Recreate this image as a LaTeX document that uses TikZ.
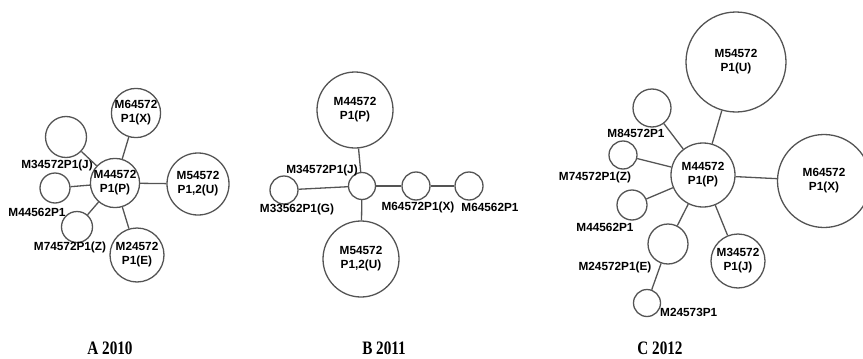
\documentclass[tikz,border=0pt]{standalone}
\usepackage{fontspec}
\setmainfont{Liberation Sans}
\newfontfamily\yearfont{Liberation Serif}[FakeStretch=0.8]
\usetikzlibrary{positioning}
\definecolor{edgegrey}{rgb}{0.33, 0.33, 0.33}

\begin{document}
\begin{tikzpicture}[x=1pt,y=-1pt,
    allele/.style={circle,draw=edgegrey,line width=1.3pt,inner sep=0pt,align=center,
      font=\fontsize{11.8}{14}\selectfont\bfseries},
    tag/.style={inner sep=0pt,font=\fontsize{11.8}{14}\selectfont\bfseries},
    link/.style={draw=edgegrey,line width=1.3pt},
    year/.style={inner sep=0pt,font=\fontsize{19}{21}\yearfont\bfseries}]
\useasboundingbox (0,0) rectangle (863,359);

\node[allele,minimum size=49pt] (aP) at (115,183) {M44572\\P1(P)};
\node[allele,minimum size=46pt] (aX) at (136,113) {M64572\\P1(X)};
\node[allele,minimum size=41pt] (aJ) at (66,137) {};
\node[allele,minimum size=62pt] (aU) at (198,184) {M54572\\P1,2(U)};
\node[allele,minimum size=30pt] (aG) at (55,188) {};
\node[allele,minimum size=31pt] (aZ) at (77,227) {};
\node[allele,minimum size=54pt] (aE) at (137,255) {M24572\\P1(E)};
\node[tag] (aJt) at (57,165) {M34572P1(J)};
\node[tag] (aGt) at (37,212) {M44562P1};
\node[tag] (aZt) at (70,247) {M74572P1(Z)};
\draw[link] (aP) -- (aX);
\draw[link] (aP) -- (aJ);
\draw[link] (aP) -- (aU);
\draw[link] (aP) -- (aG);
\draw[link] (aP) -- (aZ);
\draw[link] (aP) -- (aE);

\node[allele,minimum size=27pt] (bJ) at (362,186) {};
\node[allele,minimum size=76pt] (bP) at (355,110) {M44572\\P1(P)};
\node[allele,minimum size=76pt] (bU) at (361,259) {M54572\\P1,2(U)};
\node[allele,minimum size=28pt] (bG) at (284,190) {};
\node[allele,minimum size=28pt] (bX) at (416,186) {};
\node[allele,minimum size=28pt] (bX2) at (469,186) {};
\node[tag] (bJt) at (322,170) {M34572P1(J)};
\node[tag] (bGt) at (297,209) {M33562P1(G)};
\node[tag] (bXt) at (418,207) {M64572P1(X)};
\node[tag] (bX2t) at (490,207) {M64562P1};
\draw[link] (bJ) -- (bP);
\draw[link] (bJ) -- (bU);
\draw[link] (bJ) -- (bG);
\draw[link] (bJ) -- (bX);
\draw[link] (bX) -- (bX2);

\node[allele,minimum size=64pt] (cP) at (703,175) {M44572\\P1(P)};
\node[allele,minimum size=100pt] (cU) at (736,62) {M54572\\P1(U)};
\node[allele,minimum size=93pt] (cX) at (824,181) {M64572\\P1(X)};
\node[allele,minimum size=54pt] (cJ) at (738,261) {M34572\\P1(J)};
\node[allele,minimum size=38pt] (c8) at (652,108) {};
\node[allele,minimum size=28pt] (cZ) at (623,155) {};
\node[allele,minimum size=30pt] (cG) at (632,205) {};
\node[allele,minimum size=40pt] (cE) at (668,244) {};
\node[allele,minimum size=27pt] (cE2) at (647,303) {};
\node[tag] (c8t) at (636,133) {M84572P1};
\node[tag] (cZt) at (595,177) {M74572P1(Z)};
\node[tag] (cGt) at (605,227) {M44562P1};
\node[tag] (cEt) at (615,267) {M24572P1(E)};
\node[tag,anchor=west] (cE2t) at (660,312) {M24573P1};
\draw[link] (cP) -- (cU);
\draw[link] (cP) -- (cX);
\draw[link] (cP) -- (cJ);
\draw[link] (cP) -- (c8);
\draw[link] (cP) -- (cZ);
\draw[link] (cP) -- (cG);
\draw[link] (cP) -- (cE);
\draw[link] (cE) -- (cE2);

\node[year] (tA) at (110,348) {A 2010};
\node[year] (tB) at (384,348) {B 2011};
\node[year] (tC) at (660,348) {C 2012};
\end{tikzpicture}
\end{document}
